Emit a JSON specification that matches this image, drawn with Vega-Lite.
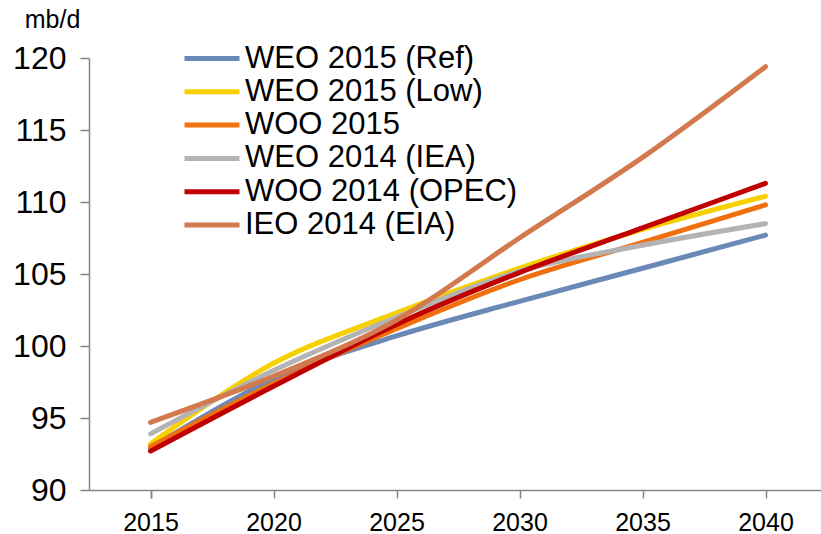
{
  "$schema": "https://vega.github.io/schema/vega-lite/v6.json",
  "autosize": "none",
  "padding": {"left": 89, "top": 58, "right": 0, "bottom": 44},
  "width": 738,
  "height": 432,
  "background": "white",
  "config": {
    "font": "Liberation Sans",
    "view": {"stroke": null}
  },
  "data": {
    "values": [
      {"year": "2015", "series": "WEO 2015 (Ref)", "mbd": 92.9},
      {"year": "2020", "series": "WEO 2015 (Ref)", "mbd": 97.7},
      {"year": "2025", "series": "WEO 2015 (Ref)", "mbd": 100.7},
      {"year": "2030", "series": "WEO 2015 (Ref)", "mbd": 103.1},
      {"year": "2035", "series": "WEO 2015 (Ref)", "mbd": 105.4},
      {"year": "2040", "series": "WEO 2015 (Ref)", "mbd": 107.7},
      {"year": "2015", "series": "WEO 2015 (Low)", "mbd": 93.2},
      {"year": "2020", "series": "WEO 2015 (Low)", "mbd": 98.8},
      {"year": "2025", "series": "WEO 2015 (Low)", "mbd": 102.3},
      {"year": "2030", "series": "WEO 2015 (Low)", "mbd": 105.4},
      {"year": "2035", "series": "WEO 2015 (Low)", "mbd": 108.1},
      {"year": "2040", "series": "WEO 2015 (Low)", "mbd": 110.4},
      {"year": "2015", "series": "WOO 2015", "mbd": 93.0},
      {"year": "2020", "series": "WOO 2015", "mbd": 97.4},
      {"year": "2025", "series": "WOO 2015", "mbd": 101.2},
      {"year": "2030", "series": "WOO 2015", "mbd": 104.6},
      {"year": "2035", "series": "WOO 2015", "mbd": 107.2},
      {"year": "2040", "series": "WOO 2015", "mbd": 109.8},
      {"year": "2015", "series": "WEO 2014 (IEA)", "mbd": 93.9},
      {"year": "2020", "series": "WEO 2014 (IEA)", "mbd": 98.3},
      {"year": "2025", "series": "WEO 2014 (IEA)", "mbd": 102.0},
      {"year": "2030", "series": "WEO 2014 (IEA)", "mbd": 105.2},
      {"year": "2035", "series": "WEO 2014 (IEA)", "mbd": 107.0},
      {"year": "2040", "series": "WEO 2014 (IEA)", "mbd": 108.5},
      {"year": "2015", "series": "WOO 2014 (OPEC)", "mbd": 92.7},
      {"year": "2020", "series": "WOO 2014 (OPEC)", "mbd": 97.2},
      {"year": "2025", "series": "WOO 2014 (OPEC)", "mbd": 101.5},
      {"year": "2030", "series": "WOO 2014 (OPEC)", "mbd": 105.1},
      {"year": "2035", "series": "WOO 2014 (OPEC)", "mbd": 108.2},
      {"year": "2040", "series": "WOO 2014 (OPEC)", "mbd": 111.3},
      {"year": "2015", "series": "IEO 2014 (EIA)", "mbd": 94.7},
      {"year": "2020", "series": "IEO 2014 (EIA)", "mbd": 97.9},
      {"year": "2025", "series": "IEO 2014 (EIA)", "mbd": 101.8},
      {"year": "2030", "series": "IEO 2014 (EIA)", "mbd": 107.5},
      {"year": "2035", "series": "IEO 2014 (EIA)", "mbd": 113.1},
      {"year": "2040", "series": "IEO 2014 (EIA)", "mbd": 119.4}
    ]
  },
  "mark": {
    "type": "line",
    "interpolate": "catmull-rom",
    "strokeWidth": 5,
    "strokeCap": "round",
    "strokeJoin": "round"
  },
  "encoding": {
    "x": {
      "field": "year",
      "type": "ordinal",
      "sort": null,
      "scale": {"type": "point", "padding": 0.5},
      "axis": {
        "title": null,
        "labelAngle": 0,
        "labelFontSize": 25,
        "labelColor": "#000000",
        "labelPadding": 12,
        "domainColor": "#868686",
        "domainWidth": 1.5,
        "tickColor": "#868686",
        "tickWidth": 1.5,
        "tickSize": 8,
        "tickBand": "extent",
        "grid": false
      }
    },
    "y": {
      "field": "mbd",
      "type": "quantitative",
      "scale": {"domain": [90, 120], "nice": false, "zero": false},
      "axis": {
        "title": "mb/d",
        "titleAngle": 0,
        "titleX": -37,
        "titleY": -39,
        "titleAlign": "center",
        "titleBaseline": "middle",
        "titleFontSize": 25,
        "titleFontWeight": "normal",
        "titleColor": "#000000",
        "values": [90, 95, 100, 105, 110, 115, 120],
        "labelFontSize": 32,
        "labelColor": "#000000",
        "labelPadding": 14,
        "domainColor": "#868686",
        "domainWidth": 1.5,
        "tickColor": "#868686",
        "tickWidth": 1.5,
        "tickSize": 9,
        "grid": false
      }
    },
    "color": {
      "field": "series",
      "type": "nominal",
      "scale": {
        "domain": ["WEO 2015 (Ref)", "WEO 2015 (Low)", "WOO 2015", "WEO 2014 (IEA)", "WOO 2014 (OPEC)", "IEO 2014 (EIA)"],
        "range": ["#6A89B7", "#F7D000", "#F07010", "#B3B3B3", "#C00000", "#D27A4E"]
      },
      "legend": {
        "title": null,
        "orient": "none",
        "legendX": 80,
        "legendY": -15,
        "symbolType": "M0,0H11",
        "symbolSize": 100,
        "symbolStrokeWidth": 5,
        "labelFontSize": 31,
        "labelColor": "#000000",
        "labelOffset": 45,
        "rowPadding": 1.3,
        "labelLimit": 500
      }
    }
  }
}
